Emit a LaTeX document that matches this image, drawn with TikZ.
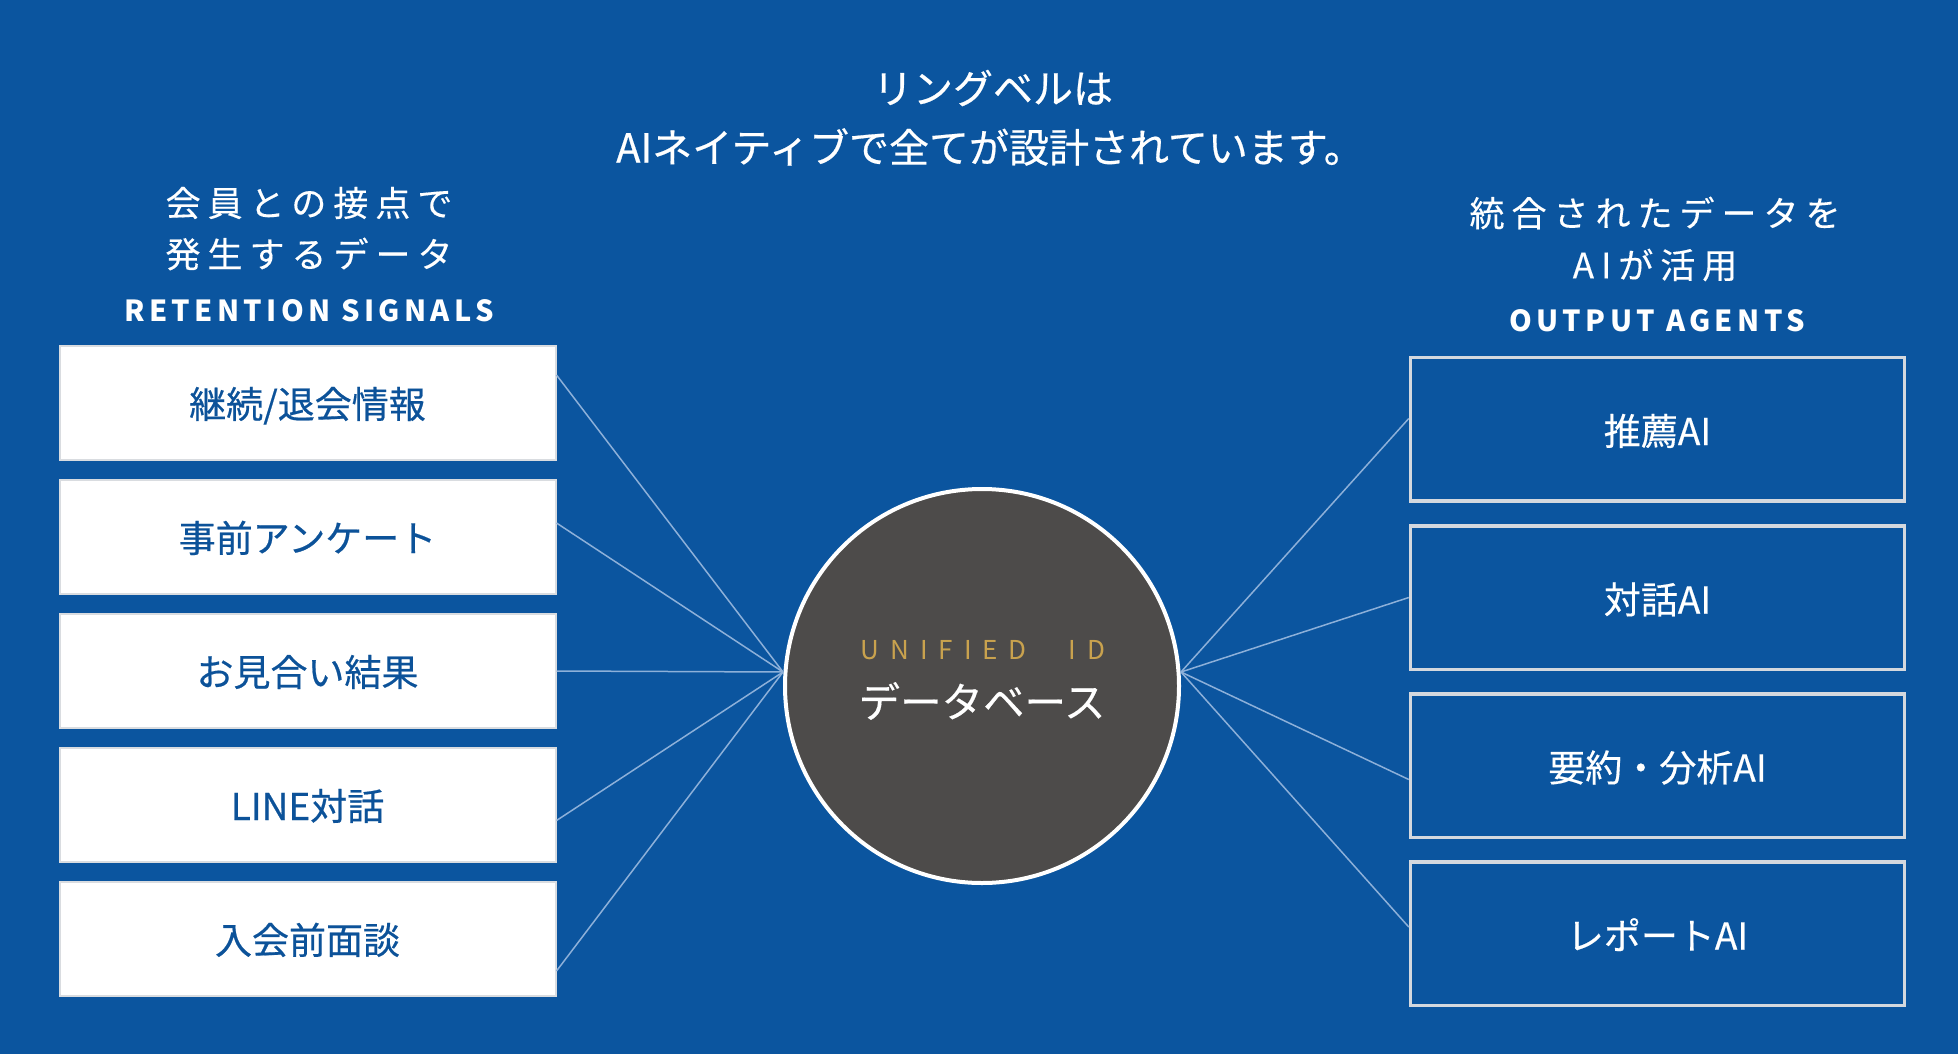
\documentclass[tikz,border=0pt]{standalone}
\usepackage{fontspec}
\setmainfont{Noto Sans CJK JP}
\definecolor{bgblue}{HTML}{0B559F}
\definecolor{labelblue}{HTML}{0C5299}
\definecolor{boxgray}{HTML}{D9DCE0}
\definecolor{rborder}{HTML}{D4D8DE}
\definecolor{dbfill}{HTML}{4D4B4A}
\definecolor{gold}{HTML}{C9A24E}
\definecolor{linkcol}{HTML}{8DB0D9}
\begin{document}
\begin{tikzpicture}[x=1pt,y=-1pt,
  lbox/.style={rectangle, draw=boxgray, line width=2pt, fill=white, minimum width=496pt, minimum height=114pt, inner sep=0pt, text=labelblue, text height=30pt, text depth=0pt, font=\fontsize{37}{40}\selectfont\addfontfeatures{FakeBold=0.5}},
  rbox/.style={rectangle, draw=rborder, line width=3.5pt, fill=bgblue, minimum width=494pt, minimum height=143.5pt, inner sep=0pt, text=white, text height=32pt, text depth=0pt, font=\fontsize{37}{40}\selectfont\addfontfeatures{FakeBold=0.4}},
  heading/.style={text=white, inner sep=0pt, font=\fontsize{35}{42}\selectfont\addfontfeatures{LetterSpace=20,FakeBold=0.3}},
  tag/.style={text=white, inner sep=0pt, font=\fontsize{29}{34}\selectfont\bfseries\addfontfeatures{LetterSpace=15}},
  titletext/.style={text=white, inner sep=0pt, font=\fontsize{40}{46}\selectfont\addfontfeatures{FakeBold=0.5}},
  link/.style={draw=linkcol, line width=1.5pt},
]
\fill[bgblue] (0,0) rectangle (1958,1054);
\useasboundingbox (0,0) rectangle (1958,1054);

% title
\node[titletext] (t1) at (993,88) {リングベルは};
\node[titletext] (t2) at (990,147) {AIネイティブで全てが設計されています。};

% left headings
\node[heading] (lh1) at (309,203) {会員との接点で};
\node[heading] (lh2) at (309,254) {発生するデータ};
\node[tag] (lh3) at (309,311) {RETENTION SIGNALS};

% right headings
\node[heading] (rh1) at (1655,213) {統合されたデータを};
\node[heading] (rh2) at (1655,265) {AIが活用};
\node[tag] (rh3) at (1657,321) {OUTPUT AGENTS};

% left boxes
\node[lbox] (b1) at (307.5,403) {継続/退会情報};
\node[lbox] (b2) at (307.5,537) {事前アンケート};
\node[lbox] (b3) at (307.5,671) {お見合い結果};
\node[lbox] (b4) at (307.5,805) {LINE対話};
\node[lbox] (b5) at (307.5,939) {入会前面談};

% right boxes
\node[rbox] (r1) at (1657.5,429) {推薦AI};
\node[rbox] (r2) at (1657.5,597.5) {対話AI};
\node[rbox] (r3) at (1657.5,765.5) {要約・分析AI};
\node[rbox] (r4) at (1657.5,933.5) {レポートAI};

% database circle
\node[circle, draw=white, line width=4pt, fill=dbfill, minimum size=394pt, inner sep=0pt] (db) at (982,686) {};
\node[text=gold, inner sep=0pt, font=\fontsize{26}{30}\selectfont\addfontfeatures{LetterSpace=42}] (uid) at (983,650) {UNIFIED\hspace{42pt}ID};
\node[text=white, inner sep=0pt, font=\fontsize{41.5}{46}\selectfont\addfontfeatures{FakeBold=0.3}] (dbl) at (982,701) {データベース};

\coordinate (cl) at ([yshift=14pt]db.west);
\coordinate (cr) at ([yshift=14pt]db.east);

% links
\draw[link] ([yshift=28pt]b1.east) -- (cl);
\draw[link] ([yshift=14pt]b2.east) -- (cl);
\draw[link] (b3.east) -- (cl);
\draw[link] ([yshift=-15.5pt]b4.east) -- (cl);
\draw[link] ([yshift=-32pt]b5.east) -- (cl);

\draw[link] (cr) -- ([yshift=10.5pt]r1.west);
\draw[link] (cr) -- (r2.west);
\draw[link] (cr) -- ([yshift=-14pt]r3.west);
\draw[link] (cr) -- ([yshift=6.5pt]r4.west);
\end{tikzpicture}
\end{document}
